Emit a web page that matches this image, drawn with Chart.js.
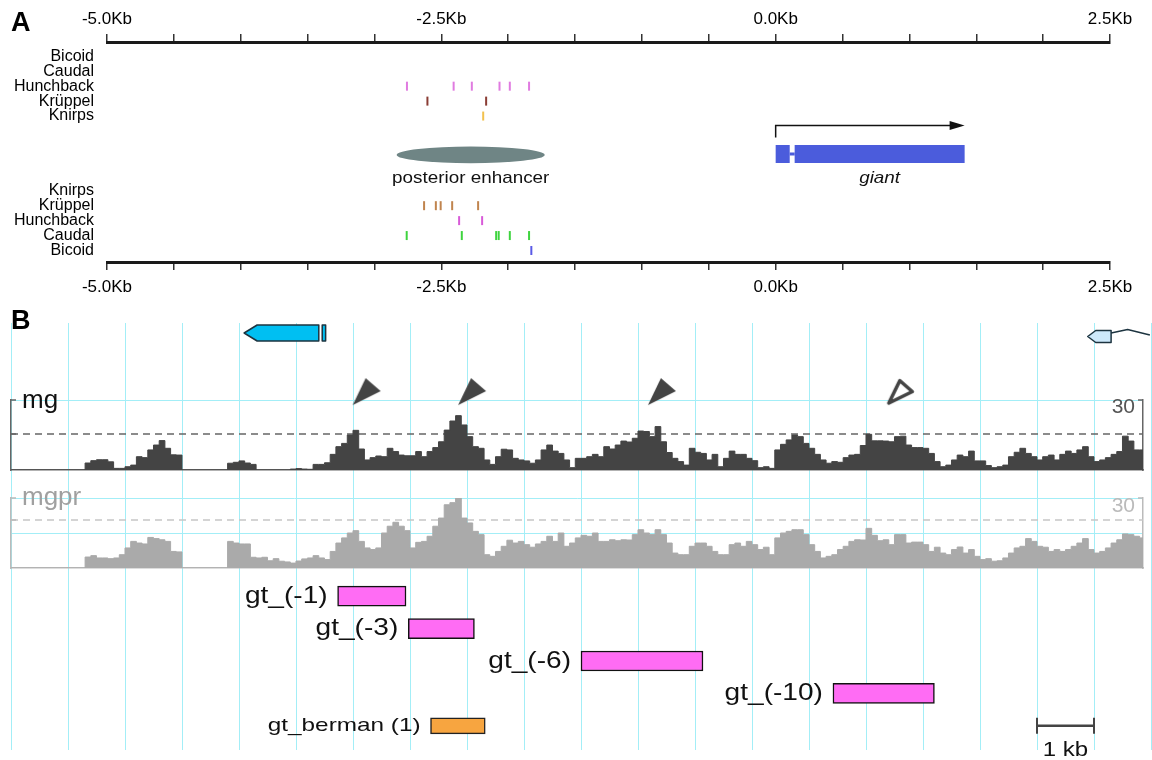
<!DOCTYPE html>
<html lang="en">
  <head>
    <meta charset="UTF-8" />
    <title>giant posterior enhancer</title>
    <script src="https://cdn.jsdelivr.net/npm/chart.js"></script>
    <style>
      body { margin: 0; background: #fff; }
      #page { position: relative; width: 1152px; height: 760px; overflow: hidden;
        font-family: "Liberation Sans", Arial, Helvetica, sans-serif; }
      #page canvas { position: absolute; left: 0; }
      .panel { position: absolute; left: 11px; font-weight: bold; font-size: 27px; line-height: 1; }
    </style>
  </head>
  <body>
    <div id="page">
      <canvas id="panel-a" width="1152" height="300" style="top:0"></canvas>
      <canvas id="grid-b" width="1152" height="460" style="top:300px"></canvas>
      <canvas id="track-mg" width="1152" height="115" style="top:360px"></canvas>
      <canvas id="track-mgpr" width="1152" height="105" style="top:470px"></canvas>
      <canvas id="fragments" width="1152" height="185" style="top:575px"></canvas>
      <div class="panel" style="top:9px">A</div>
      <div class="panel" style="top:307px">B</div>
    </div>

    <script>
      const FONT = '"Liberation Sans", Arial, Helvetica, sans-serif';
      const CYAN = "#a3eef7";
      Chart.defaults.font.family = FONT;
      Chart.defaults.color = "#000";

      // ---------- panel A : kb relative to the giant start site ----------
      const axisMinKb = -5;
      const axisMaxKb = 2.5;
      const rowLabels = ["Bicoid", "Caudal", "Hunchback", "Krüppel", "Knirps",
                         "Knirps", "Krüppel", "Hunchback", "Caudal", "Bicoid"];
      const rowIndex = [0, 1, 2, 3, 4, 9, 10, 11, 12, 13];

      const topHunchback = [-2.757, -2.408, -2.272, -2.065, -1.988, -1.844];
      const topKruppel = [-2.604, -2.165];
      const topKnirps = [-2.187];
      const botKruppel = [-2.629, -2.541, -2.505, -2.419, -2.225];
      const botHunchback = [-2.367, -2.195];
      const botCaudal = [-2.759, -2.347, -2.09, -2.071, -1.988, -1.844];
      const botBicoid = [-1.827];

      const enhancerKb = [-2.834, -1.727];
      const giantExonStart = [0, 0.142];
      const giantExonEnd = [0.105, 1.413];

      // ---------- panel B : kb from the left edge of the window ----------
      const BIN_KB = 0.1;
      const mgValues = [
        0, 0, 0, 0, 0, 0, 0, 0, 0, 0, 0, 0, 0, 3, 4, 4.4, 4.4, 3.5, 0.7, 0.7,
        1.4, 2.1, 5.7, 5.3, 8.6, 10.7, 12.6, 9.3, 6.5, 6.4, 0, 0, 0, 0, 0, 0, 0, 0, 2.9, 3.3,
        3.9, 3, 2.4, 0, 0, 0, 0, 0, 0, 0.4, 0.6, 0.4, 0.3, 2.4, 2.4, 3.1, 6.7, 10, 11.4, 15,
        17, 9, 4.3, 5.3, 6, 5.7, 9.3, 7.9, 6.4, 6.1, 6.1, 7.9, 5.7, 7.9, 9.6, 12.1, 17.1, 21, 23.3, 19.3,
        14.3, 10, 9.3, 4.3, 2.4, 5.7, 8.9, 8.6, 5, 4.3, 3.9, 2.9, 4.3, 8.6, 10.7, 8.1, 7.1, 4.3, 1, 5,
        5, 5.7, 6.7, 5.7, 10, 9, 10.7, 12.4, 12, 13.6, 16.7, 16.5, 14.3, 18.6, 12.1, 7.5, 5, 3.6, 2.1, 9.3,
        7.6, 7.1, 4.3, 6.7, 1.4, 5, 8.1, 6.7, 6.7, 5, 4, 1, 1.4, 0.7, 8.6, 11, 12.9, 15, 14.3, 11.4,
        9.3, 6.7, 4.3, 2.9, 3.6, 3.3, 5.3, 6.4, 6.7, 10.5, 15.3, 12.5, 12.5, 12.4, 12.1, 14.3, 14.5, 10.7, 9.6, 9.6,
        9.3, 7.1, 3.6, 1.4, 2.1, 4.3, 6.4, 5.7, 8.1, 3.9, 3.9, 1.9, 1, 1.4, 2.1, 5.7, 7.6, 9.3, 7.1, 5.7,
        4.3, 5.7, 6.4, 4.3, 6.7, 8.1, 7.1, 8.6, 10, 5.7, 3.6, 4.3, 5.3, 6.7, 7.9, 14.5, 12.4, 8.6, 8.6
      ];
      const mgprValues = [
        0, 0, 0, 0, 0, 0, 0, 0, 0, 0, 0, 0, 0, 4.7, 5.3, 4.3, 4.3, 4, 4.3, 5.7,
        8.6, 11.4, 10.7, 10.3, 13.1, 12.6, 12.1, 11.4, 7.1, 6.9, 0, 0, 0, 0, 0, 0, 0, 0, 11.4, 10.7,
        10.3, 10.3, 4.6, 4.3, 4.6, 3.1, 4, 2.9, 2.6, 2.1, 3, 3.9, 4.3, 5.3, 4.3, 3.6, 7.1, 10.7, 12.9, 15,
        16, 11.4, 8.6, 7.9, 8.6, 15, 17.9, 19.6, 17.9, 16, 8.6, 11, 11.4, 13.6, 17.9, 21.4, 27.1, 28, 30, 21.4,
        19.3, 15.7, 14.3, 5.7, 5, 7.1, 9.3, 11.9, 10.7, 11.4, 10, 8.9, 10.3, 11.4, 13.6, 11.4, 15, 9.3, 10.7, 12.9,
        14, 13.6, 15, 11.4, 11.4, 12.1, 11.7, 12.1, 12, 14.3, 16.4, 15, 14.3, 16.4, 14.3, 10.7, 6.4, 5.7, 5.7, 9.3,
        10.7, 10.7, 9.3, 7.1, 5.7, 5.7, 10, 10.7, 9.3, 11.4, 10, 7.9, 8.9, 5.7, 12.9, 15, 15.7, 16.4, 16.4, 14.3,
        10, 7.1, 4.3, 5, 5.7, 7.9, 9.3, 11.4, 12.1, 12, 17, 14, 11.7, 12.1, 10, 14.3, 14.3, 10.7, 11.1, 11.1,
        10, 7.1, 8.9, 6.4, 5.7, 7.9, 9, 6.4, 7.9, 5, 3.6, 4, 2.9, 3.1, 4.3, 6.4, 8.6, 9.3, 12.6, 11.4,
        9.3, 8.9, 7.1, 7.9, 7.1, 7.9, 9.3, 10.7, 12.6, 7.9, 6.4, 7.1, 8.6, 10.7, 12.1, 14.6, 14.3, 13.6, 12.9
      ];
      const mgCutoff = 15.4;
      const mgprCutoff = 20.6;
      const arrowKb = [6.24, 8.09, 11.42, 15.61];
      const arrowFilled = [true, true, true, false];

      const leftGeneBody = [4.09, 5.4];
      const leftGeneCap = [5.46, 5.52];
      const rightGeneBody = [18.89, 19.3];
      const rightGeneIntron = [19.3, 19.59, 19.98];

      const gtLabels = ["gt_(-1)", "gt_(-3)", "gt_(-6)", "gt_(-10)", "gt_berman (1)"];
      const gtStart = [5.73, 6.97, 10.0, 14.42, 7.36];
      const gtEnd = [6.93, 8.13, 12.14, 16.2, 8.32];
      const scaleBarKb = [18, 19];

      const TRACK_MAX_KB = 19.86;
      const ARROW_LEVEL = 33.6;

      const noChrome = {
        responsive: false,
        animation: false,
        events: [],
        plugins: { legend: { display: false }, tooltip: { enabled: false } },
      };

      // the printed figure's lettering is a little wider than Arial
      function wideText(ctx, text, x, y, sx, align) {
        ctx.save();
        ctx.translate(x, y);
        ctx.scale(sx, 1);
        ctx.textAlign = align;
        ctx.fillText(text, 0, 0);
        ctx.restore();
      }

      // ---------- panel A ----------
      function kbAxis(position) {
        return {
          type: "linear",
          position,
          min: axisMinKb,
          max: axisMaxKb,
          afterFit: (s) => { s.height = position === "top" ? 42 : 38; },
          ticks: {
            stepSize: 0.5, autoSkip: false, maxRotation: 0,
            padding: position === "top" ? 4 : 7,
            font: { size: 17 }, color: "#000",
            callback: (v) => Math.abs(v / 2.5 - Math.round(v / 2.5)) < 1e-6 ? v.toFixed(1) + "Kb" : "",
          },
          grid: { drawOnChartArea: false, tickLength: 8, color: "#333", lineWidth: 1.5 },
          border: { display: true, color: "#1a1a1a", width: 3 },
        };
      }

      function sites(xs, row, color) {
        return {
          type: "scatter",
          data: xs.map((x) => ({ x, y: row })),
          pointStyle: "line",
          pointRotation: 90,
          pointRadius: 4.5,
          pointBorderWidth: 2,
          pointBorderColor: color,
          borderColor: color,
        };
      }

      const ENHANCER_ROW = 6.6;
      const GENE_ROW = 6.54;
      const TSS_ROW = 4.63;
      const NAME_ROW = 8.5;

      const featuresA = {
        id: "featuresA",
        afterDatasetsDraw(chart) {
          const { ctx, scales: { x, y } } = chart;
          ctx.save();
          // posterior enhancer
          const e0 = x.getPixelForValue(enhancerKb[0]);
          const e1 = x.getPixelForValue(enhancerKb[1]);
          ctx.fillStyle = "#6f8585";
          ctx.beginPath();
          ctx.ellipse((e0 + e1) / 2, y.getPixelForValue(ENHANCER_ROW), (e1 - e0) / 2, 8.3, 0, 0, Math.PI * 2);
          ctx.fill();
          ctx.fillStyle = "#111";
          ctx.font = "17px " + FONT;
          ctx.textBaseline = "alphabetic";
          wideText(ctx, "posterior enhancer", (e0 + e1) / 2, y.getPixelForValue(NAME_ROW), 1.11, "center");

          // giant gene model
          const gy = y.getPixelForValue(GENE_ROW);
          ctx.fillStyle = "#4b5cdc";
          giantExonStart.forEach((s, i) => {
            const a = x.getPixelForValue(s);
            const b = x.getPixelForValue(giantExonEnd[i]);
            ctx.fillRect(a, gy - 9, b - a, 18);
          });
          const i0 = x.getPixelForValue(giantExonEnd[0]);
          const i1 = x.getPixelForValue(giantExonStart[1]);
          ctx.fillRect(i0, gy - 1.5, i1 - i0, 3);

          // transcription start arrow
          const t0 = x.getPixelForValue(giantExonStart[0]);
          const t1 = x.getPixelForValue(giantExonEnd[1]);
          const ay = y.getPixelForValue(TSS_ROW);
          ctx.strokeStyle = "#111";
          ctx.fillStyle = "#111";
          ctx.lineWidth = 1.5;
          ctx.beginPath();
          ctx.moveTo(t0, ay + 12);
          ctx.lineTo(t0, ay);
          ctx.lineTo(t1 - 10, ay);
          ctx.stroke();
          ctx.beginPath();
          ctx.moveTo(t1, ay);
          ctx.lineTo(t1 - 15, ay - 4.5);
          ctx.lineTo(t1 - 15, ay + 4.5);
          ctx.closePath();
          ctx.fill();

          ctx.font = "italic 17px " + FONT;
          wideText(ctx, "giant", (i1 + t1) / 2, y.getPixelForValue(NAME_ROW), 1.11, "center");
          ctx.restore();
        },
      };

      new Chart(document.getElementById("panel-a"), {
        type: "scatter",
        data: {
          datasets: [
            sites(topHunchback, 2, "#e07be0"),
            sites(topKruppel, 3, "#8a3c34"),
            sites(topKnirps, 4, "#f2c14e"),
            sites(botKruppel, 10, "#c0844e"),
            sites(botHunchback, 11, "#d85ad8"),
            sites(botCaudal, 12, "#3fd43f"),
            sites(botBicoid, 13, "#5a5ae6"),
          ],
        },
        options: {
          ...noChrome,
          layout: { padding: { left: 0, right: 42, top: 0, bottom: 0 }, autoPadding: false },
          scales: {
            x: kbAxis("top"),
            xBottom: kbAxis("bottom"),
            y: {
              type: "linear",
              reverse: true,
              min: -0.957,
              max: 13.77,
              afterFit: (s) => { s.width = 107; },
              afterBuildTicks: (s) => { s.ticks = rowIndex.map((v) => ({ value: v })); },
              ticks: { padding: 13, font: { size: 16 }, color: "#000", callback: (v, i) => rowLabels[i] },
              grid: { display: false, drawTicks: false },
              border: { display: false },
            },
          },
        },
        plugins: [featuresA],
      });

      // ---------- panel B : grid and gene models ----------
      function leftArrow(ctx, a, b, cy, h, tip) {
        ctx.beginPath();
        ctx.moveTo(a, cy);
        ctx.lineTo(a + tip, cy - h);
        ctx.lineTo(b, cy - h);
        ctx.lineTo(b, cy + h);
        ctx.lineTo(a + tip, cy + h);
        ctx.closePath();
        ctx.fill();
        ctx.stroke();
      }

      const genesB = {
        id: "genesB",
        afterDraw(chart) {
          const { ctx, chartArea, scales: { x } } = chart;
          const px = (v) => x.getPixelForValue(v);
          ctx.save();
          ctx.strokeStyle = "#1d3440";
          ctx.lineWidth = 1.5;
          ctx.lineJoin = "round";
          let cy = chartArea.top + 10;
          ctx.fillStyle = "#00bff2";
          leftArrow(ctx, px(leftGeneBody[0]), px(leftGeneBody[1]), cy, 8, 13);
          ctx.fillRect(px(leftGeneCap[0]), cy - 8, px(leftGeneCap[1]) - px(leftGeneCap[0]), 16);
          ctx.strokeRect(px(leftGeneCap[0]), cy - 8, px(leftGeneCap[1]) - px(leftGeneCap[0]), 16);

          cy = chartArea.top + 13.5;
          ctx.fillStyle = "#cde9fb";
          leftArrow(ctx, px(rightGeneBody[0]), px(rightGeneBody[1]), cy, 6, 8);
          ctx.beginPath();
          ctx.moveTo(px(rightGeneIntron[0]), cy - 3.5);
          ctx.lineTo(px(rightGeneIntron[1]), cy - 7);
          ctx.lineTo(px(rightGeneIntron[2]), cy - 1.5);
          ctx.stroke();
          ctx.restore();
        },
      };

      new Chart(document.getElementById("grid-b"), {
        type: "scatter",
        data: { datasets: [] },
        options: {
          ...noChrome,
          layout: { padding: { left: 11, right: 1, top: 23, bottom: 10 }, autoPadding: false },
          scales: {
            x: {
              type: "linear", min: 0, max: 20,
              ticks: { display: false, stepSize: 1 },
              grid: { color: CYAN, lineWidth: 1, drawTicks: false },
              border: { display: false },
            },
            y: { display: false, min: 0, max: 1 },
          },
        },
        plugins: [genesB],
      });

      // ---------- conservation tracks ----------
      function stepPoints(vals) {
        const pts = vals.map((v, i) => ({ x: i * BIN_KB, y: v }));
        pts.push({ x: vals.length * BIN_KB, y: vals[vals.length - 1] });
        return pts;
      }

      function arrowHead(filled) {
        const c = document.createElement("canvas");
        c.width = 34;
        c.height = 33;
        const g = c.getContext("2d");
        g.beginPath();
        if (filled) {
          g.moveTo(3, 30); g.lineTo(16, 3); g.lineTo(31, 16);
        } else {
          g.moveTo(5, 28); g.lineTo(16, 5.5); g.lineTo(28.5, 16.5);
        }
        g.closePath();
        g.lineJoin = "round";
        if (filled) {
          g.fillStyle = "#444";
          g.fill();
        } else {
          g.fillStyle = "#fff";
          g.fill();
          g.strokeStyle = "#444";
          g.lineWidth = 3.5;
          g.stroke();
        }
        return c;
      }

      function trackLabels(look, cutoff) {
        return {
          id: "label-" + look.name,
          afterDraw(chart) {
            const { ctx, chartArea, scales: { y } } = chart;
            ctx.save();
            // bracket ticks
            ctx.strokeStyle = look.edge;
            ctx.lineWidth = 1.5;
            ctx.beginPath();
            [30, cutoff].forEach((v) => {
              ctx.moveTo(chartArea.left, y.getPixelForValue(v));
              ctx.lineTo(chartArea.left + 5, y.getPixelForValue(v));
            });
            ctx.moveTo(chartArea.right - 5, y.getPixelForValue(30));
            ctx.lineTo(chartArea.right, y.getPixelForValue(30));
            ctx.stroke();

            ctx.textBaseline = "alphabetic";
            ctx.font = "26px " + FONT;
            ctx.fillStyle = look.nameColor;
            ctx.textAlign = "left";
            ctx.fillText(look.name, chartArea.left + 11, chartArea.top + look.nameDy);
            ctx.font = "21px " + FONT;
            ctx.fillStyle = look.maxColor;
            ctx.textAlign = "right";
            ctx.fillText("30", chartArea.right - 8, chartArea.top + look.maxDy);
            ctx.restore();
          },
        };
      }

      function trackChart(id, values, cutoff, look) {
        const datasets = [
          {
            data: stepPoints(values),
            stepped: "before",
            fill: "origin",
            backgroundColor: look.fill,
            borderColor: look.fill,
            borderWidth: 1,
            pointRadius: 0,
            order: 1,
          },
          {
            data: [{ x: 0, y: cutoff }, { x: TRACK_MAX_KB, y: cutoff }],
            borderColor: look.dash,
            borderWidth: 1.5,
            borderDash: [7, 5],
            pointRadius: 0,
            fill: false,
            order: 2,
          },
        ];
        if (look.arrows) {
          datasets.push({
            type: "scatter",
            data: arrowKb.map((x) => ({ x, y: ARROW_LEVEL })),
            pointStyle: arrowFilled.map(arrowHead),
            pointRadius: 18,
            clip: false,
            order: 0,
          });
        }
        const edge = { display: true, color: look.edge, width: 1.5 };
        return new Chart(document.getElementById(id), {
          type: "line",
          data: { datasets },
          options: {
            ...noChrome,
            layout: { padding: look.padding, autoPadding: false },
            scales: {
              x: {
                type: "linear", min: 0, max: TRACK_MAX_KB,
                ticks: { display: false },
                grid: { display: false, drawTicks: false },
                border: edge,
              },
              y: {
                min: 0, max: 30,
                afterBuildTicks: (s) => { s.ticks = look.gridAt.map((v) => ({ value: v })); },
                ticks: { display: false },
                grid: { color: CYAN, drawTicks: false },
                border: edge,
              },
              yRight: {
                position: "right", min: 0, max: 30,
                ticks: { display: false },
                grid: { display: false, drawTicks: false },
                border: edge,
              },
            },
          },
          plugins: [trackLabels(look, cutoff)],
        });
      }

      trackChart("track-mg", mgValues, mgCutoff, {
        name: "mg", nameColor: "#111", maxColor: "#555", nameDy: 8, maxDy: 13,
        fill: "#444444", dash: "#666", edge: "#666", gridAt: [30], arrows: true,
        padding: { left: 11, right: 9, top: 40, bottom: 5 },
      });
      trackChart("track-mgpr", mgprValues, mgprCutoff, {
        name: "mgpr", nameColor: "#a0a0a0", maxColor: "#bbb", nameDy: 7, maxDy: 14,
        fill: "#aaaaaa", dash: "#c6c6c6", edge: "#bbb", gridAt: [15, 30], arrows: false,
        padding: { left: 11, right: 9, top: 28, bottom: 7 },
      });

      // ---------- tested fragments ----------
      const fragmentLabels = {
        id: "fragmentLabels",
        afterDatasetsDraw(chart) {
          const { ctx } = chart;
          ctx.save();
          ctx.fillStyle = "#111";
          ctx.textBaseline = "middle";
          [0, 1].forEach((di) => {
            chart.getDatasetMeta(di).data.forEach((bar, i) => {
              if (chart.data.datasets[di].data[i] == null) return;
              ctx.font = (di === 0 ? 24 : 19) + "px " + FONT;
              wideText(ctx, gtLabels[i], Math.min(bar.base, bar.x) - 10, bar.y, di === 0 ? 1.17 : 1.28, "right");
            });
          });
          const pts = chart.getDatasetMeta(2).data;
          ctx.font = "20px " + FONT;
          ctx.textBaseline = "alphabetic";
          wideText(ctx, "1 kb", (pts[0].x + pts[1].x) / 2, pts[0].y + 30, 1.2, "center");
          ctx.restore();
        },
      };

      const lastRow = gtLabels.length - 1;
      new Chart(document.getElementById("fragments"), {
        type: "bar",
        data: {
          labels: gtLabels,
          datasets: [
            {
              data: gtStart.map((s, i) => (i < lastRow ? [s, gtEnd[i]] : null)),
              backgroundColor: "#ff6cf4",
              borderColor: "#111",
              borderWidth: 1.5,
              borderSkipped: false,
              barThickness: 20,
            },
            {
              data: gtStart.map((s, i) => (i === lastRow ? [s, gtEnd[i]] : null)),
              backgroundColor: "#f7a540",
              borderColor: "#222",
              borderWidth: 1.5,
              borderSkipped: false,
              barThickness: 16,
            },
            {
              type: "line",
              data: scaleBarKb.map((x) => ({ x, y: gtLabels[lastRow] })),
              borderColor: "#444",
              borderWidth: 2.5,
              pointStyle: "line",
              pointRotation: 90,
              pointRadius: 8,
              pointBorderWidth: 2,
              pointBorderColor: "#444",
            },
          ],
        },
        options: {
          ...noChrome,
          indexAxis: "y",
          layout: { padding: { left: 11, right: 1, top: 5, bottom: 18 }, autoPadding: false },
          datasets: { bar: { grouped: false } },
          scales: {
            x: { type: "linear", min: 0, max: 20, display: false },
            y: { type: "category", display: false },
          },
        },
        plugins: [fragmentLabels],
      });
    </script>
  </body>
</html>
